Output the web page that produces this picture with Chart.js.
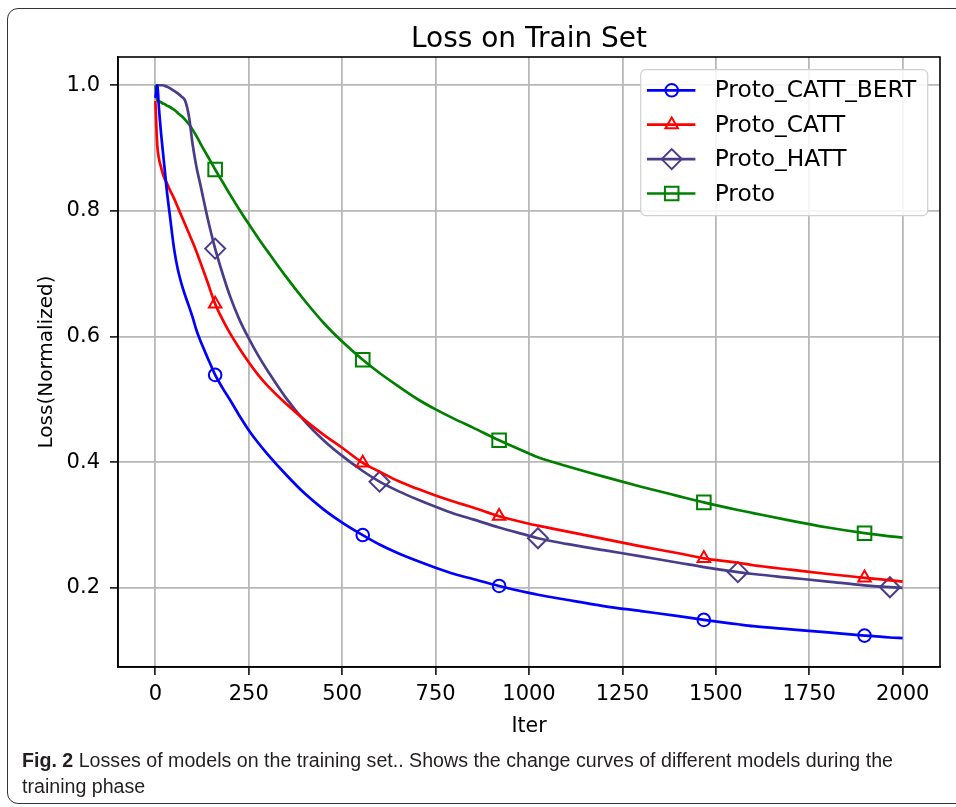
<!DOCTYPE html>
<html><head><meta charset="utf-8">
<script src="https://cdn.jsdelivr.net/npm/chart.js@4.4.0/dist/chart.umd.min.js"></script>
<style>
html,body{margin:0;padding:0;background:#fff;width:956px;height:807px;overflow:hidden;}
#frame{position:absolute;left:7px;top:8px;width:975px;height:796px;border:1.5px solid #333;border-radius:11px;box-sizing:border-box;}
#wrap{position:absolute;left:0;top:0;width:956px;height:807px;}
#caption{position:absolute;left:22px;top:747px;font-family:"Liberation Sans Narrow","Liberation Sans",sans-serif;font-size:20px;color:#231f20;line-height:26px;white-space:nowrap;transform-origin:0 0;}
</style></head>
<body>
<div id="frame"></div>
<div id="wrap"><canvas id="c" width="956" height="807"></canvas></div>
<div id="caption"><span id="line1"><b>Fig. 2</b> Losses of models on the training set.. Shows the change curves of different models during the</span><br>training phase</div>
<script>
const chartTitle = 'Loss on Train Set';
const xTitle = 'Iter';
const yTitle = 'Loss(Normalized)';
const seriesNames = ['Proto_CATT_BERT', 'Proto_CATT', 'Proto_HATT', 'Proto'];
const xTicks = [0, 250, 500, 750, 1000, 1250, 1500, 1750, 2000];
const yTicks = [0.2, 0.4, 0.6, 0.8, 1.0];

const iters = [0,5,10,15,20,25,30,40,50,60,70,80,90,100,110,120,140,160,180,200,225,250,275,300,350,400,450,500,555,600,650,700,750,800,850,920,1000,1024,1100,1200,1300,1400,1468,1559,1600,1700,1800,1898,1966,2000];

const lossCattBert = [0.980,1.000,0.960,0.925,0.895,0.866,0.836,0.787,0.740,0.707,0.684,0.665,0.648,0.630,0.610,0.594,0.566,0.539,0.518,0.499,0.474,0.451,0.431,0.413,0.380,0.350,0.325,0.304,0.284,0.269,0.255,0.243,0.232,0.222,0.214,0.203,0.192,0.189,0.181,0.171,0.163,0.155,0.149,0.142,0.139,0.134,0.129,0.124,0.121,0.120];
const lossCatt = [0.975,0.905,0.882,0.870,0.859,0.851,0.845,0.832,0.820,0.806,0.792,0.778,0.764,0.750,0.735,0.719,0.686,0.652,0.627,0.605,0.581,0.559,0.539,0.522,0.493,0.467,0.444,0.423,0.399,0.385,0.370,0.358,0.347,0.337,0.328,0.314,0.302,0.299,0.290,0.278,0.266,0.255,0.247,0.240,0.236,0.229,0.222,0.216,0.212,0.210];
const lossHatt = [1.000,1.000,1.000,1.000,1.000,0.999,0.998,0.995,0.991,0.987,0.982,0.975,0.950,0.905,0.870,0.843,0.788,0.740,0.700,0.664,0.627,0.597,0.570,0.546,0.502,0.465,0.435,0.410,0.386,0.369,0.354,0.341,0.329,0.318,0.309,0.296,0.283,0.279,0.270,0.260,0.250,0.240,0.233,0.225,0.222,0.216,0.210,0.204,0.201,0.200];
const lossProto = [1.000,0.976,0.974,0.973,0.971,0.970,0.968,0.965,0.961,0.956,0.951,0.945,0.938,0.929,0.919,0.908,0.887,0.866,0.846,0.826,0.802,0.779,0.757,0.736,0.695,0.657,0.622,0.592,0.563,0.542,0.521,0.501,0.484,0.469,0.455,0.435,0.414,0.408,0.394,0.377,0.361,0.346,0.336,0.324,0.319,0.307,0.296,0.287,0.282,0.280];

const markerItersA = [160, 555, 920, 1468, 1898];
const markerItersB = [160, 600, 1024, 1559, 1966];

const FONT = '"DejaVu Sans", Verdana, sans-serif';
const styles = [
  {color:'#0000ff', style:'circle', r:6.3, marks:markerItersA},
  {color:'#ff0000', style:'triangle', r:7.2, marks:markerItersA},
  {color:'#483d8b', style:'rectRot', r:10, marks:markerItersB},
  {color:'#008000', style:'rect', r:9.6, marks:markerItersA}
];
const values = [lossCattBert, lossCatt, lossHatt, lossProto];

const datasets = values.map((vals, k) => {
  const s = styles[k];
  return {
    label: seriesNames[k],
    data: iters.map((x, i) => ({x: x, y: vals[i]})),
    borderColor: s.color,
    backgroundColor: s.color,
    borderWidth: 2.7,
    cubicInterpolationMode: 'monotone',
    pointStyle: s.style,
    pointRadius: ctx => (ctx.raw && s.marks.includes(ctx.raw.x)) ? s.r : 0,
    pointHoverRadius: ctx => (ctx.raw && s.marks.includes(ctx.raw.x)) ? s.r : 0,
    pointBorderWidth: 2,
    pointBorderColor: s.color,
    pointBackgroundColor: 'rgba(0,0,0,0)',
    fill: false
  };
});

function drawMarker(ctx, style, r, x, y) {
  if (Chart.helpers && Chart.helpers.drawPoint) {
    Chart.helpers.drawPoint(ctx, {pointStyle: style, radius: r, rotation: 0, borderWidth: 2}, x, y);
  }
}

const framePlugin = {
  id: 'frame',
  afterDatasetsDraw(chart) {
    const {ctx, chartArea: a} = chart;
    ctx.save();
    ctx.strokeStyle = '#000';
    ctx.lineWidth = 1.6;
    ctx.strokeRect(a.left, a.top, a.right - a.left, a.bottom - a.top);
    ctx.restore();
  }
};

const axesTitlePlugin = {
  id: 'axesTitle',
  afterDraw(chart) {
    const {ctx, chartArea: a} = chart;
    ctx.save();
    ctx.fillStyle = '#000';
    ctx.font = '28px ' + FONT;
    ctx.textAlign = 'center';
    ctx.textBaseline = 'alphabetic';
    ctx.fillText(chartTitle, (a.left + a.right) / 2, a.top - 10);
    ctx.restore();
  }
};

const legendPlugin = {
  id: 'boxLegend',
  afterDraw(chart) {
    const {ctx, chartArea: a} = chart;
    const w = 287, h = 146;
    const x0 = a.right - 12.3 - w, y0 = a.top + 12.6;
    ctx.save();
    ctx.beginPath();
    if (ctx.roundRect) ctx.roundRect(x0, y0, w, h, 5); else ctx.rect(x0, y0, w, h);
    ctx.fillStyle = 'rgba(255,255,255,0.85)';
    ctx.fill();
    ctx.strokeStyle = '#d0d0d0';
    ctx.lineWidth = 1.2;
    ctx.stroke();
    chart.data.datasets.forEach((ds, i) => {
      const s = styles[i];
      const y = y0 + 20.7 + i * 34.4;
      ctx.strokeStyle = s.color;
      ctx.lineWidth = 2.7;
      ctx.beginPath();
      ctx.moveTo(x0 + 6.3, y);
      ctx.lineTo(x0 + 54.7, y);
      ctx.stroke();
      ctx.fillStyle = 'rgba(0,0,0,0)';
      ctx.lineWidth = 2;
      drawMarker(ctx, s.style, s.r, x0 + 31, y);
      ctx.fillStyle = '#000';
      ctx.font = '23.3px ' + FONT;
      ctx.textBaseline = 'middle';
      ctx.textAlign = 'left';
      ctx.fillText(ds.label, x0 + 74, y + 1);
    });
    ctx.restore();
  }
};

new Chart(document.getElementById('c'), {
  type: 'line',
  data: {datasets: datasets},
  options: {
    responsive: false,
    animation: false,
    devicePixelRatio: 1,
    layout: {padding: {left: 0, right: 16, top: 57, bottom: 60}},
    plugins: {
      legend: {display: false},
      tooltip: {enabled: false},
      title: {display: false}
    },
    scales: {
      x: {
        type: 'linear',
        min: -100,
        max: 2100,
        afterBuildTicks: sc => { sc.ticks = xTicks.map(v => ({value: v})); },
        afterFit: sc => { sc.height = 80; },
        ticks: {
          color: '#000',
          font: {family: FONT, size: 21},
          padding: 7,
          maxRotation: 0,
          autoSkip: false,
          callback: v => String(v)
        },
        grid: {color: '#b8b8b8', lineWidth: 1.8, tickColor: '#000', tickLength: 8, tickWidth: 1.5},
        border: {color: '#000', width: 1.6},
        title: {display: true, text: xTitle, color: '#000', font: {family: FONT, size: 20.5}, padding: {top: 0, bottom: 8}}
      },
      y: {
        type: 'linear',
        min: 0.074,
        max: 1.045,
        afterBuildTicks: sc => { sc.ticks = yTicks.map(v => ({value: v})); },
        afterFit: sc => { sc.width = 118; },
        ticks: {
          color: '#000',
          font: {family: FONT, size: 21},
          padding: 10,
          autoSkip: false,
          callback: v => Number(v).toFixed(1)
        },
        grid: {color: '#b8b8b8', lineWidth: 1.8, tickColor: '#000', tickLength: 8, tickWidth: 1.5},
        border: {color: '#000', width: 1.6},
        title: {display: true, text: yTitle, color: '#000', font: {family: FONT, size: 20}, padding: {top: 35, bottom: 0}}
      }
    }
  },
  plugins: [framePlugin, legendPlugin, axesTitlePlugin]
});

(function fitCaption() {
  const cap = document.getElementById('caption');
  const line1 = document.getElementById('line1');
  const wdt = line1.getBoundingClientRect().width;
  if (wdt > 0) {
    const s = 871 / wdt;
    cap.style.transform = 'scaleX(' + s.toFixed(4) + ')';
  }
})();
</script>
</body></html>
